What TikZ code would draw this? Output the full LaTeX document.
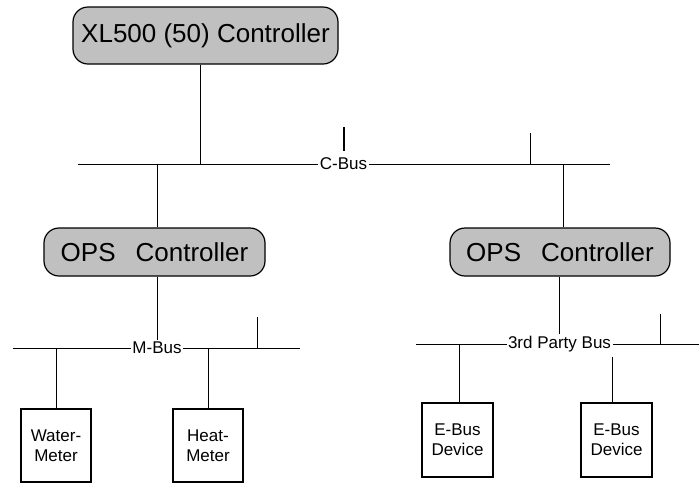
\documentclass[tikz,border=0pt]{standalone}
\usepackage{fontspec}
\setmainfont{Liberation Sans}
\begin{document}
\begin{tikzpicture}[x=1pt,y=-1pt,
  ctrl/.style={draw=black,line width=1.2pt,fill=ctrlgray,rounded corners=15pt,
    inner sep=0pt,font=\fontsize{26}{29}\selectfont},
  device/.style={draw=black,line width=1.1pt,inner sep=0pt,align=center,
    font=\fontsize{17}{20}\selectfont},
  buslabel/.style={fill=white,inner sep=1.5pt,font=\fontsize{17}{20}\selectfont},
  wire/.style={line width=0.9pt}]
\definecolor{ctrlgray}{RGB}{192,192,192}
\useasboundingbox (0,0) rectangle (699,483);

% controllers
\node[ctrl,minimum width=265pt,minimum height=57pt] (xl) at (205.5,35.5) {XL500 (50) Controller};
\node[ctrl,minimum width=221pt,minimum height=48pt] (opsL) at (154.5,252) {OPS\hspace{20pt}Controller};
\node[ctrl,minimum width=220pt,minimum height=48pt] (opsR) at (560,252) {OPS\hspace{20pt}Controller};

% field devices
\node[device,minimum width=70pt,minimum height=73pt] (water) at (56,445.5) {Water-\\Meter};
\node[device,minimum width=70pt,minimum height=73pt] (heat) at (208,445.5) {Heat-\\Meter};
\node[device,minimum width=71pt,minimum height=74pt] (ebA) at (457.5,440) {E-Bus\\Device};
\node[device,minimum width=71pt,minimum height=74pt] (ebB) at (616.5,440) {E-Bus\\Device};

% C-Bus
\coordinate (cbL) at (78,164);
\coordinate (cbR) at (610,164);
\draw[wire] (cbL) -- (cbR);
\node[buslabel] (cbus) at (343.5,164) {C-Bus};
\coordinate (cbXL) at (200,164);
\coordinate (cbOL) at (157.5,164);
\coordinate (cbOR) at (563,164);
\coordinate (cbT) at (530,164);
\coordinate (cbTtop) at (530,133);
\coordinate (tickA) at (344,127);
\coordinate (tickB) at (344,151);
\draw[wire] (xl.south -| cbXL) -- (cbXL);
\draw[wire] (cbOL) -- (opsL.north -| cbOL);
\draw[wire] (cbOR) -- (opsR.north -| cbOR);
\draw[wire] (cbT) -- (cbTtop);
\draw[line width=1.8pt] (tickA) -- (tickB);

% M-Bus
\coordinate (mbL) at (13,348);
\coordinate (mbR) at (300,348);
\draw[wire] (mbL) -- (mbR);
\node[buslabel] (mbus) at (157,348) {M-Bus};
\draw[wire] (opsL.south -| mbus.north) -- (mbus.north);
\coordinate (mbT) at (257,348);
\coordinate (mbTtop) at (257,317);
\draw[wire] (mbT) -- (mbTtop);
\coordinate (mbW) at (56,348);
\coordinate (mbH) at (208,348);
\draw[wire] (mbW) -- (water.north);
\draw[wire] (mbH) -- (heat.north);

% 3rd party bus
\coordinate (pbL) at (416,344);
\coordinate (pbR) at (699,344);
\draw[wire] (pbL) -- (pbR);
\node[buslabel] (pbus) at (559.5,344) {3rd Party Bus};
\draw[wire] (opsR.south -| pbus.north) -- (pbus.north);
\coordinate (pbT) at (660,344);
\coordinate (pbTtop) at (660,314);
\draw[wire] (pbT) -- (pbTtop);
\coordinate (pbA) at (459,344);
\draw[wire] (pbA) -- (ebA.north -| pbA);
\coordinate (pbB) at (612,357);
\draw[wire] (pbB) -- (ebB.north -| pbB);
\end{tikzpicture}
\end{document}
